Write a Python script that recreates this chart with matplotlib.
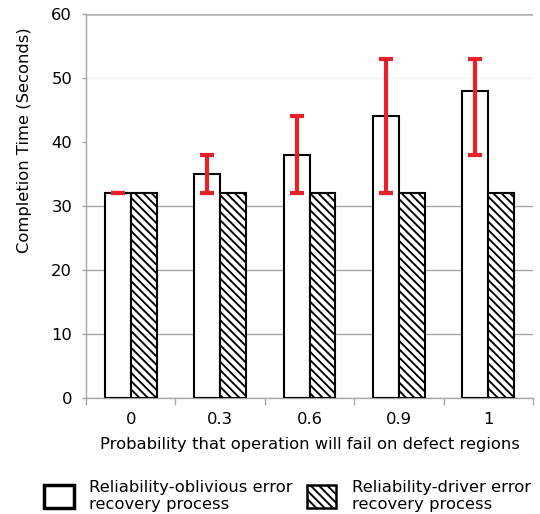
import matplotlib
matplotlib.use("Agg")
from matplotlib import pyplot as plt
from matplotlib.patches import Patch
import numpy as np

plt.rcParams['font.family'] = ['DejaVu Sans']
plt.rcParams['hatch.linewidth'] = 1.35

probs = ['0', '0.3', '0.6', '0.9', '1']
oblivious = [32, 35, 38, 44, 48]
driver = [32, 32, 32, 32, 32]
err_low = [32, 32, 32, 32, 38]
err_high = [32, 38, 44, 53, 53]

grid_color = '#a6a6a6'
red = '#e8202a'
fs = 11.8

fig = plt.figure(figsize=(5.40, 5.14), dpi=100)
ax = fig.add_axes([0.1593, 0.2257, 0.8277, 0.7471])

x = np.arange(len(probs))
w = 0.29
ax.bar(x - w / 2, oblivious, w, facecolor='white', edgecolor='black', linewidth=1.5, zorder=3)
ax.bar(x + w / 2, driver, w, facecolor='white', edgecolor='black', linewidth=1.5,
       hatch='\\\\\\\\', zorder=3)

ob = np.array(oblivious)
yerr = [ob - np.array(err_low), np.array(err_high) - ob]
ax.errorbar(x - w / 2, oblivious, yerr=yerr, fmt='none', ecolor=red, elinewidth=3,
            capsize=4.7, capthick=3, zorder=4)

ax.set_xlim(-0.5, len(probs) - 0.5)
ax.set_ylim(0, 60)
ax.set_yticks(range(0, 61, 10))
ax.set_xticks(x)
ax.set_xticklabels(probs)
ax.set_xticks(np.arange(-0.5, len(probs), 1.0), minor=True)
ax.tick_params(axis='x', which='major', length=0, pad=10, labelsize=fs)
ax.tick_params(axis='x', which='minor', length=5, color=grid_color, width=1)
ax.tick_params(axis='y', length=3, color=grid_color, width=1, pad=7, labelsize=fs)

ax.yaxis.grid(True, color=grid_color, linewidth=1)
ax.set_axisbelow(True)
glines = ax.get_ygridlines()
glines[4].set_visible(False)
glines[5].set_color('#f2f2f2')
glines[6].set_linewidth(1.8)
glines[6].set_color('#b0b0b0')

for s in ['top', 'right']:
    ax.spines[s].set_visible(False)
for s in ['left', 'bottom']:
    ax.spines[s].set_color(grid_color)
    ax.spines[s].set_linewidth(1)

ax.set_xlabel('Probability that operation will fail on defect regions', fontsize=fs, labelpad=7)
fig.text(0.046, 0.728, 'Completion Time (Seconds)', rotation=90, fontsize=fs,
         ha='center', va='center')

handles = [
    Patch(facecolor='white', edgecolor='black', linewidth=2.5),
    Patch(facecolor='white', edgecolor='black', linewidth=1.8, hatch='\\\\\\\\'),
]
labels = ['Reliability-oblivious error\nrecovery process',
          'Reliability-driver error\nrecovery process']
fig.legend(handles, labels, loc='lower left', bbox_to_anchor=(0.0815, 0.004), ncol=2,
           frameon=False, fontsize=fs, handlelength=1.8, handleheight=1.75,
           handletextpad=0.95, columnspacing=0.85, labelspacing=0, borderpad=0,
           borderaxespad=0)

fig.savefig('out.png', dpi=100)
